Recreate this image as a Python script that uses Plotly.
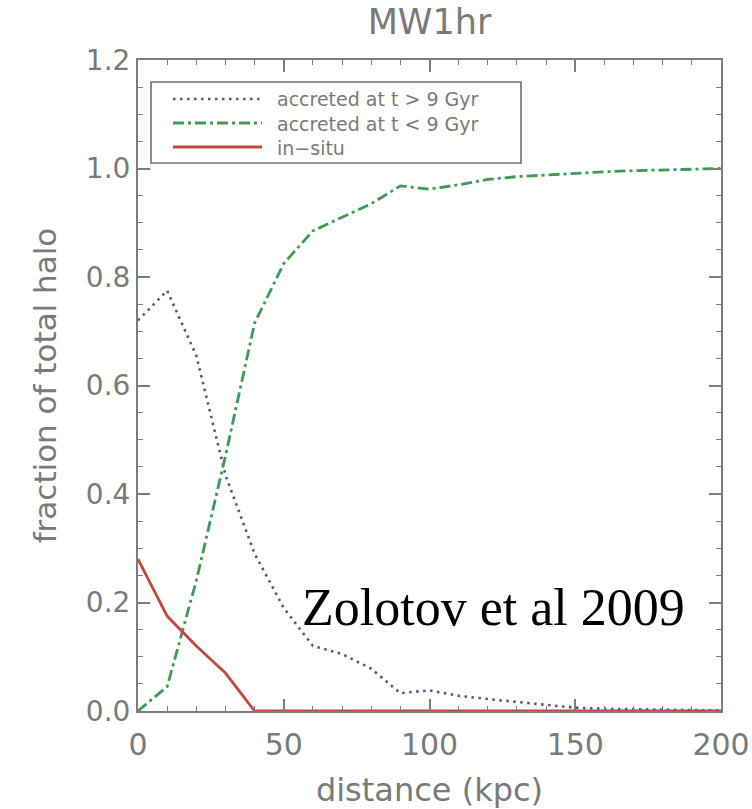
import plotly.graph_objects as go

# Halo composition versus galactocentric distance (sampled every 10 kpc)
distance_kpc = [0, 10, 20, 30, 40, 50, 60, 70, 80, 90, 100,
                110, 120, 130, 140, 150, 160, 170, 180, 190, 200]

accreted_late = [0.72, 0.775, 0.655, 0.435, 0.29, 0.19, 0.12, 0.105, 0.078, 0.033, 0.038,
                 0.028, 0.022, 0.017, 0.012, 0.006, 0.004, 0.003, 0.002, 0.001, 0.001]

accreted_early = [0.0, 0.045, 0.24, 0.47, 0.715, 0.825, 0.885, 0.91, 0.935, 0.968, 0.962,
                  0.97, 0.98, 0.985, 0.988, 0.992, 0.994, 0.996, 0.997, 0.999, 1.0]

in_situ = [0.28, 0.175, 0.12, 0.07, 0.0, 0.0, 0.0, 0.0, 0.0, 0.0, 0.0,
           0.0, 0.0, 0.0, 0.0, 0.0, 0.0, 0.0, 0.0, 0.0, 0.0]

series_names = ["accreted at t > 9 Gyr", "accreted at t < 9 Gyr", "in\u2212situ"]
series_colors = ["#555590", "#3f9a55", "#c8463c"]
series_dash = ["2.5px,4.5px", "11px,4px,3px,4px", "solid"]
series_width = [2.6, 2.8, 2.8]

AXIS_GREY = "#7d7d7d"
TEXT_GREY = "#7a7a7a"
SANS = "DejaVu Sans"

fig = go.Figure()
for ys, name, col, dash, w in zip([accreted_late, accreted_early, in_situ],
                                  series_names, series_colors, series_dash, series_width):
    fig.add_trace(go.Scatter(
        x=distance_kpc, y=ys, mode="lines", name=name,
        line=dict(color=col, dash=dash, width=w),
        cliponaxis=False, showlegend=False,
    ))

# Frame of the plotting area, in page pixels
L, T, PW, PH = 138, 60, 583, 651
W, H = 752, 809


def px_x(p):
    return (p - L) / PW


def px_y(p):
    return (T + PH - p) / PH


# Boxed key in the upper-left corner of the frame
shapes = [dict(type="rect", xref="paper", yref="paper",
               x0=px_x(151), x1=px_x(521), y0=px_y(163), y1=px_y(82),
               line=dict(color="#6e6e6e", width=1.6), fillcolor="rgba(0,0,0,0)")]
row_px = [99, 123, 147]
for col, dash, w, ry in zip(series_colors, series_dash, series_width, row_px):
    shapes.append(dict(type="line", xref="paper", yref="paper",
                       x0=px_x(173), x1=px_x(262), y0=px_y(ry), y1=px_y(ry),
                       line=dict(color=col, dash=dash, width=w)))

annotations = [
    dict(xref="paper", yref="paper", x=px_x(275), y=px_y(row_px[1]),
         xanchor="left", yanchor="middle", align="left", showarrow=False,
         text="<br>".join(series_names),
         font=dict(family=SANS, size=19, color=TEXT_GREY)),
    dict(xref="x", yref="y", x=55.6, y=0.19, xanchor="left", yanchor="middle",
         showarrow=False, text="Zolotov et al 2009",
         font=dict(family="Liberation Serif", size=52, color="#000000")),
]

axis_common = dict(
    showgrid=False, zeroline=False, automargin=False,
    showline=True, linecolor=AXIS_GREY, linewidth=2,
    mirror="ticks", ticks="inside", tickcolor=AXIS_GREY, tickwidth=1.5,
)

fig.update_layout(
    width=W, height=H,
    margin=dict(l=L, r=W - L - PW, t=T, b=H - T - PH),
    paper_bgcolor="white", plot_bgcolor="white",
    title=dict(text="MW1hr", x=(L + PW / 2) / W, xanchor="center",
               y=1 - 22 / H, yanchor="middle",
               font=dict(family=SANS, size=35, color=TEXT_GREY)),
    xaxis=dict(range=[0, 200], tickvals=[0, 50, 100, 150, 200], ticklen=12,
               ticklabelstandoff=6,
               tickfont=dict(family=SANS, size=30, color=TEXT_GREY),
               minor=dict(ticks="inside", dtick=10, ticklen=5, tickcolor=AXIS_GREY, tickwidth=1.2),
               title=dict(text="distance (kpc)", standoff=18,
                          font=dict(family=SANS, size=32, color=TEXT_GREY)),
               **axis_common),
    yaxis=dict(range=[0, 1.2], tickvals=[0, 0.2, 0.4, 0.6, 0.8, 1.0, 1.2], tickformat=".1f",
               ticklen=12,
               tickfont=dict(family=SANS, size=28, color=TEXT_GREY),
               minor=dict(ticks="inside", dtick=0.05, ticklen=5, tickcolor=AXIS_GREY, tickwidth=1.2),
               title=dict(text="fraction of total halo", standoff=20,
                          font=dict(family=SANS, size=31, color=TEXT_GREY)),
               **axis_common),
    shapes=shapes,
    annotations=annotations,
)

fig.write_html("out.html")
